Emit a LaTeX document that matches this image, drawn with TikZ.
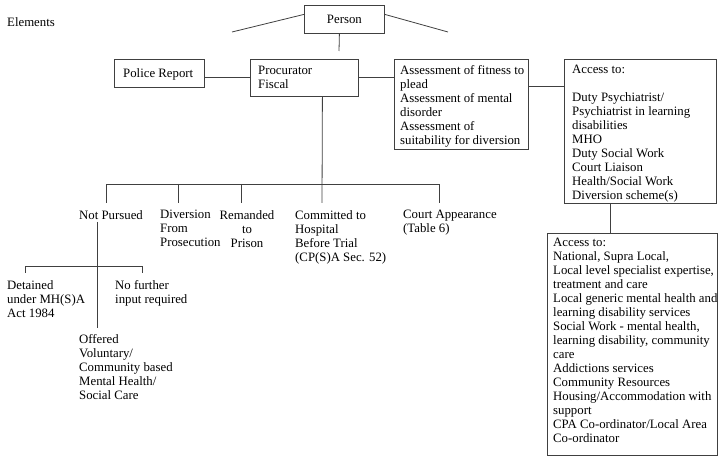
\documentclass[tikz,border=0pt]{standalone}
\usepackage{fontspec}
\setmainfont{Liberation Serif}
\newcommand\diagfont{\fontsize{12.8bp}{14bp}\selectfont}
\definecolor{lc}{gray}{0.25}
\tikzset{
  box/.style={draw=lc, line width=0.8bp, inner sep=0pt, anchor=north west},
  txt/.style={inner sep=0pt, align=left, anchor=north west, font=\diagfont},
  conn/.style={draw=lc, line width=0.8bp}
}
\begin{document}
\begin{tikzpicture}[x=1bp,y=-1bp]
\useasboundingbox (0,0) rectangle (723,461);

% boxes
\node[box, minimum width=80bp, minimum height=28bp] (person) at (304,5) {};
\node[box, minimum width=90bp, minimum height=28bp] (police) at (114,59) {};
\node[box, minimum width=108bp, minimum height=37bp] (pf) at (250,59) {};
\node[box, minimum width=134bp, minimum height=90bp] (assess) at (394,59) {};
\node[box, minimum width=152bp, minimum height=144bp] (access) at (564,59) {};
\node[box, minimum width=170bp, minimum height=222bp] (access2) at (547,233) {};

% texts
\node[txt] (elements) at (7,17) {Elements};
\node[txt, anchor=center] (personT) at (person.center) {Person};
\node[txt] (policeT) at (123,68) {Police Report};
\node[txt] (pfT) at (258,66) {Procurator\\Fiscal};
\node[txt] (assessT) at (400,65) {Assessment of fitness to\\plead\\Assessment of mental\\disorder\\Assessment of\\suitability for diversion};
\node[txt] (accessT) at (572,65) {Access to:\\\mbox{}\\Duty Psychiatrist/\\Psychiatrist in learning\\disabilities\\MHO\\Duty Social Work\\Court Liaison\\Health/Social Work\\Diversion scheme(s)};
\node[txt] (access2T) at (553,238) {Access to:\\National, Supra Local,\\Local level specialist expertise,\\treatment and care\\Local generic mental health and\\learning disability services\\Social Work - mental health,\\learning disability, community\\care\\Addictions services\\Community Resources\\Housing/Accommodation with\\support\\CPA Co-ordinator/Local Area\\Co-ordinator};

\node[txt] (notp) at (79,210) {Not Pursued};
\node[txt] (divers) at (160,210) {Diversion\\From\\Prosecution};
\node[txt, anchor=north, align=center] (remand) at (247,210) {Remanded\\to\\Prison};
\node[txt] (commit) at (295,210) {Committed to\\Hospital\\Before Trial\\(CP(S)A Sec. 52)};
\node[txt] (court) at (403,210) {Court Appearance\\(Table 6)};
\node[txt] (detained) at (7,280) {Detained\\under MH(S)A\\Act 1984};
\node[txt] (nofurther) at (115,280) {No further\\input required};
\node[txt] (offered) at (79,334) {Offered\\Voluntary/\\Community based\\Mental Health/\\Social Care};

% free-end coordinates
\coordinate (pl) at (232,32);
\coordinate (pr) at (448,32);
\coordinate (ps) at (339,51);
\coordinate (h1) at (106,184);
\coordinate (h5) at (439,184);
\coordinate (d1) at (106,203);
\coordinate (d2) at (178,203);
\coordinate (d3) at (241,203);
\coordinate (d4) at (322,203);
\coordinate (d5) at (439,203);
\coordinate (n1) at (97,222);
\coordinate (n2) at (97,328);
\coordinate (m1) at (25,266);
\coordinate (m2) at (142,266);
\coordinate (e1) at (25,273);
\coordinate (e2) at (142,273);
\coordinate (a1) at (610,203);

% connectors
\draw[conn] ([yshift=5bp]person.west) -- (pl);
\draw[conn] ([yshift=5bp]person.east) -- (pr);
\draw[conn] ([xshift=-5bp]person.south) -- (ps);
\draw[conn] (police.east |- pf.west) -- (pf.west);
\draw[conn] (pf.east) -- (pf.east -| assess.west);
\draw[conn] ([yshift=-27bp]assess.north east) -- ([yshift=-27bp]access.north west);
\draw[conn] ([xshift=18bp]pf.south) -- (d4);
\draw[conn] (d1) -- (h1) -- (h5) -- (d5);
\draw[conn] (d2 |- h1) -- (d2);
\draw[conn] (d3 |- h1) -- (d3);
\draw[conn] (n1) -- (n2);
\draw[conn] (e1) -- (m1) -- (m2) -- (e2);
\draw[conn] (a1) -- (a1 |- access2.north);
\end{tikzpicture}
\end{document}
